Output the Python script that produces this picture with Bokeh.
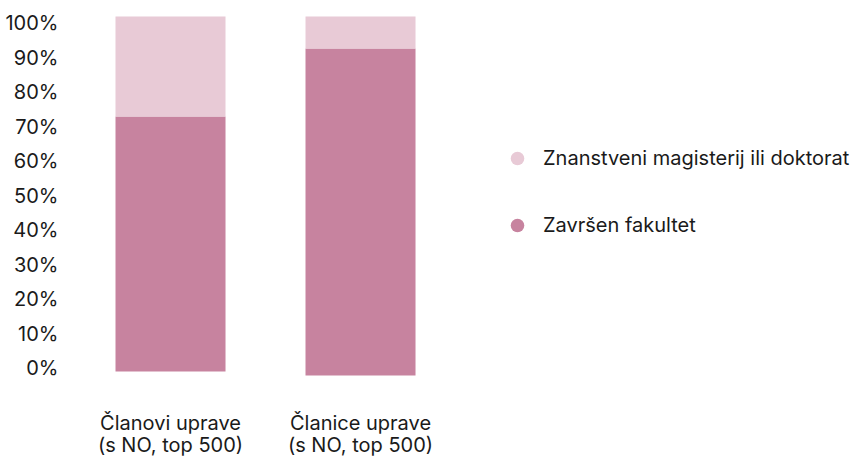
import numpy as np
from bokeh.plotting import figure
from bokeh.models import ColumnDataSource, FixedTicker, Range1d, Legend, LegendItem
from bokeh.core.properties import value
from bokeh.embed import file_html
from bokeh.resources import INLINE

# ---- data (in % of the axis) ----
categories = ["Članovi uprave\n(s NO, top 500)", "Članice uprave\n(s NO, top 500)"]
baseline = [-0.9, -2.0]              # bottoms of the bars as drawn
zavrsen_fakultet = [73.8, 94.6]       # dark segment height
magisterij_doktorat = [29.0, 9.3]     # light segment height
series_labels = ["Znanstveni magisterij ili doktorat", "Završen fakultet"]
tick_values = [0, 10, 20, 30, 40, 50, 60, 70, 80, 90, 100]
tick_labels = ["0%", "10%", "20%", "30%", "40%", "50%", "60%", "70%", "80%", "90%", "100%"]

DARK = "#c7839f"
LIGHT = "#e8cad6"
TEXT = "#1a1a1a"
FONT = "Inter"
FSIZE = "20px"

xs = np.arange(len(categories))
base = np.array(baseline)
dark_top = base + np.array(zavrsen_fakultet)
light_top = dark_top + np.array(magisterij_doktorat)
line1 = [c.split("\n")[0] for c in categories]
line2 = [c.split("\n")[1] for c in categories]

src = ColumnDataSource(dict(x=xs, l1=line1, l2=line2, base=base,
                            dark_top=dark_top, light_top=light_top))

p = figure(width=866, height=457, output_backend="svg", toolbar_location=None,
           x_axis_type=None, x_range=Range1d(-0.5053, 3.663), y_range=Range1d(-25.76, 106.51),
           min_border_left=74, min_border_right=0, min_border_top=0, min_border_bottom=0)
p.outline_line_color = None
p.grid.visible = False
p.background_fill_color = "white"
p.border_fill_color = "white"

bar_w = 0.579
p.vbar(x="x", bottom="base", top="dark_top", width=bar_w, source=src, fill_color=DARK, line_color=None)
p.vbar(x="x", bottom="dark_top", top="light_top", width=bar_w, source=src, fill_color=LIGHT, line_color=None)

# category labels under the bars (two lines)
for col, off in (("l1", 55), ("l2", 77)):
    p.text(x="x", y=0, text=col, source=src, text_align="center", text_baseline="alphabetic",
           y_offset=off, text_font=value(FONT), text_font_size=FSIZE, text_color=TEXT)

# y axis
ax = p.yaxis[0]
ax.ticker = FixedTicker(ticks=tick_values)
ax.major_label_overrides = {v: l for v, l in zip(tick_values, tick_labels)}
ax.axis_line_color = None
ax.major_tick_line_color = None
ax.minor_tick_line_color = None
ax.major_tick_out = 0
ax.major_tick_in = 0
ax.major_label_standoff = 16
ax.major_label_text_font = FONT
ax.major_label_text_font_size = FSIZE
ax.major_label_text_color = TEXT

# legend with circle markers
r_light = p.scatter(x=[np.nan], y=[np.nan], marker="circle", fill_color=LIGHT, line_color=None)
r_dark = p.scatter(x=[np.nan], y=[np.nan], marker="circle", fill_color=DARK, line_color=None)
legend = Legend(items=[LegendItem(label=series_labels[0], renderers=[r_light]),
                       LegendItem(label=series_labels[1], renderers=[r_dark])],
                location=(426, 215), orientation="vertical",
                glyph_width=34, glyph_height=34, spacing=33, label_standoff=9,
                padding=0, margin=0, border_line_color=None, background_fill_alpha=0,
                label_text_font=FONT, label_text_font_size=FSIZE, label_text_color=TEXT)
p.add_layout(legend, "center")

open("out.html", "w").write(file_html(p, INLINE))
